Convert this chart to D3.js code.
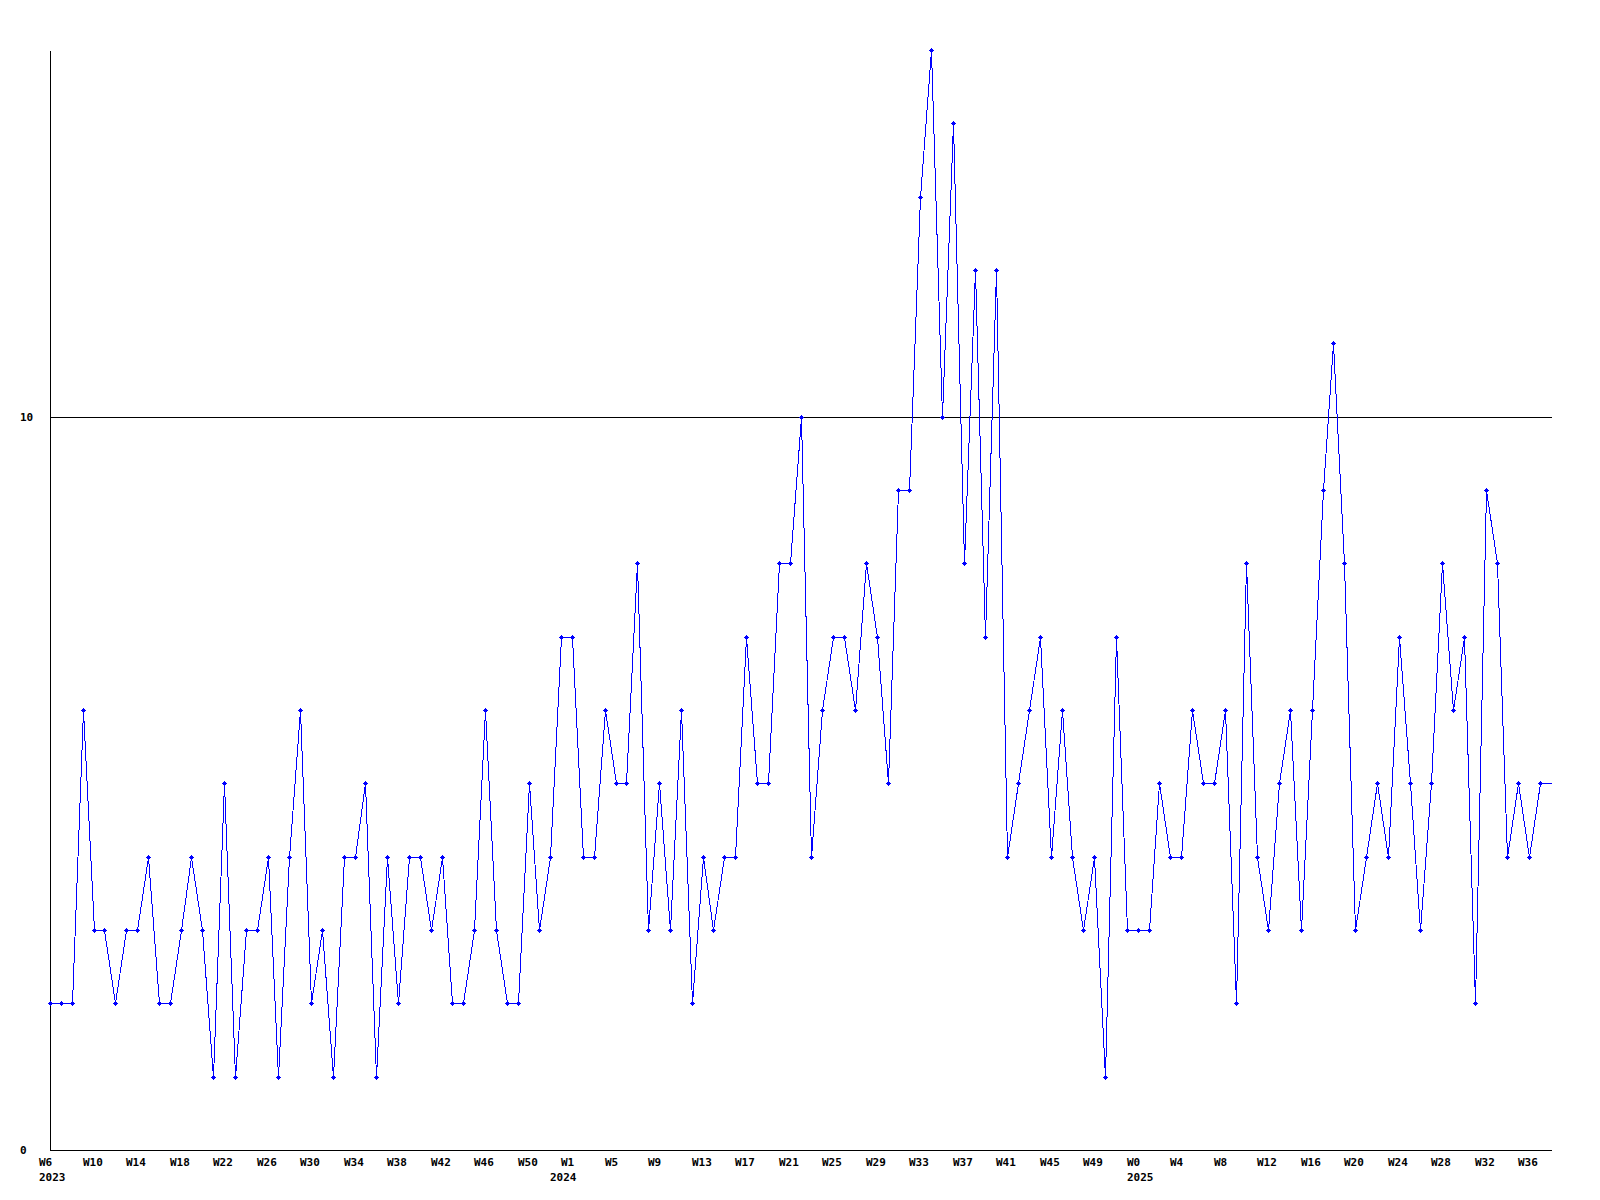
<!DOCTYPE html>
<html>
<head>
<meta charset="utf-8">
<script src="https://cdn.jsdelivr.net/npm/d3@7"></script>
<style>
  body { margin: 0; background: #fff; }
  text { font-family: "DejaVu Sans Mono", monospace; font-weight: bold; font-size: 11px; fill: #000; }
</style>
</head>
<body>
<svg id="chart" width="1600" height="1200"></svg>
<script>
// weekly counts, W6 2023 .. W38 2025 (last week still running)
var years = ["2023", "2024", "2025"];
var firstWeek = [6, 0, 0];
var lastWeek = [52, 52, 38];

var values = [2,2,2,6,3,3,2,3,3,4, 2,2,3,4,3,1,5,1,3,3,
  4,1,4,6,2,3,1,4,4,5, 1,4,2,4,4,3,4,2,2,3,
  6,3,2,2,5,3,4,7,7,4, 4,6,5,5,8,3,5,3,6,2,
  4,3,4,4,7,5,5,8,8,10, 4,6,7,7,6,8,7,5,9,9,
  13,15,10,14,8,12,7,12,4,5, 6,7,4,6,4,3,4,1,7,3,
  3,3,5,4,4,6,5,5,6,2, 8,4,3,5,6,3,6,9,11,8,
  3,4,5,4,7,5,3,5,8,6, 7,2,9,8,4,5,4,5,
  5];

var yTicks = [0, 10];
var yMax = 15;
var labelEvery = 4;

// build week categories
var weeks = [];
years.forEach(function(y, i) {
  for (var w = firstWeek[i]; w <= lastWeek[i]; w++) {
    weeks.push({ year: y, week: w, key: y + "-W" + w, first: w == firstWeek[i] });
  }
});

var data = weeks.map(function(d, i) { return { key: d.key, v: values[i] }; });

var svg = d3.select("#chart");

var x = d3.scalePoint()
  .domain(weeks.map(function(d) { return d.key; }))
  .range([50, 1551]);

var y = d3.scaleLinear()
  .domain([0, yMax])
  .range([1150, 50]);

var g = svg.append("g").attr("transform", "translate(0.5,0.5)");

// grid line at 10
g.selectAll(".grid")
  .data(yTicks.filter(function(t) { return t > 0; }))
  .enter().append("line")
    .attr("x1", 50).attr("x2", 1551)
    .attr("y1", function(d) { return Math.round(y(d)); })
    .attr("y2", function(d) { return Math.round(y(d)); })
    .attr("stroke", "#000")
    .attr("shape-rendering", "crispEdges");

// axes
g.append("line")
  .attr("x1", 50).attr("x2", 50).attr("y1", y(yMax)).attr("y2", y(0))
  .attr("stroke", "#000").attr("shape-rendering", "crispEdges");
g.append("line")
  .attr("x1", 50).attr("x2", 1551).attr("y1", y(0)).attr("y2", y(0))
  .attr("stroke", "#000").attr("shape-rendering", "crispEdges");

// y labels
svg.selectAll(".ylab")
  .data(yTicks)
  .enter().append("text")
    .attr("x", 20)
    .attr("y", function(d) { return Math.round(y(d)) + 4; })
    .text(function(d) { return d; });

// week labels
svg.selectAll(".xlab")
  .data(weeks.filter(function(d, i) { return i % labelEvery == 0; }))
  .enter().append("text")
    .attr("x", function(d) { return Math.round(x(d.key)) - 11; })
    .attr("y", 1166)
    .text(function(d) { return "W" + d.week; });

// year labels
svg.selectAll(".yearlab")
  .data(weeks.filter(function(d) { return d.first; }))
  .enter().append("text")
    .attr("x", function(d) { return Math.round(x(d.key)) - 11; })
    .attr("y", 1181)
    .text(function(d) { return d.year; });

var line = d3.line()
  .x(function(d) { return Math.round(x(d.key)); })
  .y(function(d) { return Math.round(y(d.v)); });

g.append("path")
  .datum(data)
  .attr("d", line)
  .attr("fill", "none")
  .attr("stroke", "#0000ff")
  .attr("stroke-width", 1)
  .attr("shape-rendering", "crispEdges");

// markers, not for the running week
var mk = svg.append("g").attr("fill", "#0000ff").attr("shape-rendering", "crispEdges");
data.slice(0, -1).forEach(function(d) {
  var cx = Math.round(x(d.key)), cy = Math.round(y(d.v));
  mk.append("rect").attr("x", cx - 1).attr("y", cy - 1).attr("width", 3).attr("height", 3);
  mk.append("rect").attr("x", cx - 2).attr("y", cy).attr("width", 5).attr("height", 1);
  mk.append("rect").attr("x", cx).attr("y", cy - 2).attr("width", 1).attr("height", 5);
});
</script>
</body>
</html>
